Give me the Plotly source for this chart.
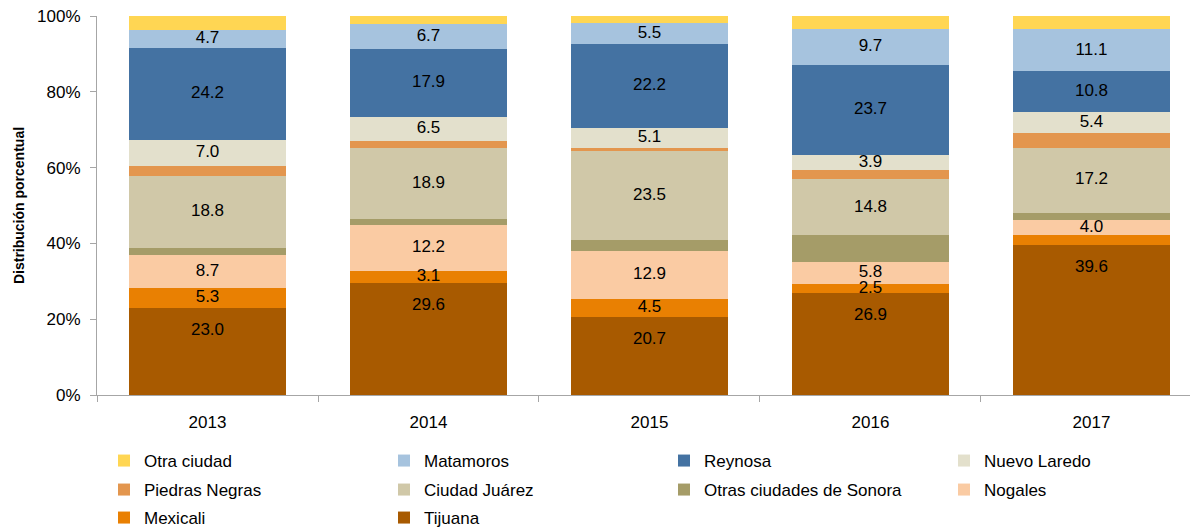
import plotly.graph_objects as go

years = ["2013", "2014", "2015", "2016", "2017"]
y_tick_values = [0, 20, 40, 60, 80, 100]
y_tick_labels = ["0%", "20%", "40%", "60%", "80%", "100%"]

# Series listed from bottom of the stack to the top
tijuana = [23.0, 29.6, 20.7, 26.9, 39.6]
mexicali = [5.3, 3.1, 4.5, 2.5, 2.6]
nogales = [8.7, 12.2, 12.9, 5.8, 4.0]
otras_sonora = [1.9, 1.5, 2.7, 6.9, 1.9]
ciudad_juarez = [18.8, 18.9, 23.5, 14.8, 17.2]
piedras_negras = [2.7, 1.6, 1.0, 2.5, 3.9]
nuevo_laredo = [7.0, 6.5, 5.1, 3.9, 5.4]
reynosa = [24.2, 17.9, 22.2, 23.7, 10.8]
matamoros = [4.7, 6.7, 5.5, 9.7, 11.1]
otra_ciudad = [3.7, 2.0, 1.9, 3.3, 3.5]

names = ["Tijuana", "Mexicali", "Nogales", "Otras ciudades de Sonora", "Ciudad Juárez",
         "Piedras Negras", "Nuevo Laredo", "Reynosa", "Matamoros", "Otra ciudad"]
values = [tijuana, mexicali, nogales, otras_sonora, ciudad_juarez,
          piedras_negras, nuevo_laredo, reynosa, matamoros, otra_ciudad]
# which data labels are shown (per series, per year)
labels_shown = [
    [1, 1, 1, 1, 1],
    [1, 1, 1, 1, 0],
    [1, 1, 1, 1, 1],
    [0, 0, 0, 0, 0],
    [1, 1, 1, 1, 1],
    [0, 0, 0, 0, 0],
    [1, 1, 1, 1, 1],
    [1, 1, 1, 1, 1],
    [1, 1, 1, 1, 1],
    [0, 0, 0, 0, 0],
]

# ---- styling ----
colors = ["#A85A00", "#E98002", "#FACBA3", "#A59C68", "#D0C8A8",
          "#E3964E", "#E3E0CC", "#4472A2", "#A6C3DE", "#FFD653"]
legend_rows = ["legend3", "legend3", "legend2", "legend2", "legend2",
               "legend2", "legend", "legend", "legend", "legend"]
legend_widths = [235, 235, 150, 235, 235, 235, 150, 235, 235, 235]

FONT = "Liberation Sans, Arial, sans-serif"
AXIS_COLOR = "#A6A6A6"
W, H = 1190, 519
M_L, M_R, M_T, M_B = 89, 0, 8, 132
plot_h = H - M_T - M_B
label_drop_px = 23  # Tijuana labels sit below the top of their segment

fig = go.Figure()
for name, vals, col, lg, lw in zip(names, values, colors, legend_rows, legend_widths):
    fig.add_trace(go.Bar(
        x=years, y=vals, name=name, marker=dict(color=col, line=dict(width=0)),
        legend=lg, legendwidth=lw, hoverinfo="name+y",
    ))

lx, ly, lt = [], [], []
base = [0.0] * len(years)
for si, vals in enumerate(values):
    for yi, v in enumerate(vals):
        if labels_shown[si][yi]:
            if si == 0:
                y = base[yi] + v - label_drop_px * 100.0 / plot_h
            else:
                y = base[yi] + v / 2
            lx.append(years[yi])
            ly.append(y)
            lt.append(f"{v:.1f}")
    base = [b + v for b, v in zip(base, vals)]

fig.add_trace(go.Scatter(
    x=lx, y=ly, text=lt, mode="text", textposition="middle center",
    textfont=dict(family=FONT, size=17, color="#000000"),
    showlegend=False, hoverinfo="skip", cliponaxis=False,
))

legend_common = dict(
    orientation="h", xref="container", yref="container", xanchor="left",
    yanchor="middle", traceorder="reversed",
    font=dict(family=FONT, size=17, color="#000000"),
)
lg_x = 96 / W

fig.update_layout(
    width=W, height=H,
    margin=dict(l=M_L, r=M_R, t=M_T, b=M_B),
    paper_bgcolor="white", plot_bgcolor="white",
    barmode="stack", bargap=0.29,
    font=dict(family=FONT, size=17, color="#000000"),
    showlegend=True,
    legend=dict(legend_common, x=lg_x, y=1 - 453 / H),
    legend2=dict(legend_common, x=lg_x, y=1 - 482 / H),
    legend3=dict(legend_common, x=lg_x, y=1 - 510 / H),
    xaxis=dict(
        type="category", range=[-0.5, 4.482], showline=True, linecolor=AXIS_COLOR,
        linewidth=1, ticks="outside", tickson="boundaries", ticklen=6,
        tickcolor=AXIS_COLOR, showgrid=False, ticklabelstandoff=12,
        tickfont=dict(family=FONT, size=17, color="#000000"), fixedrange=True,
    ),
    yaxis=dict(
        range=[0, 100], tickmode="array", tickvals=y_tick_values, ticktext=y_tick_labels,
        showline=True, linecolor=AXIS_COLOR, linewidth=1, ticks="outside",
        ticklen=6, tickcolor=AXIS_COLOR, showgrid=False, zeroline=False,
        ticklabelstandoff=6, ticklabeloverflow="allow",
        tickfont=dict(family=FONT, size=17, color="#000000"),
        title=dict(text="<b>Distribución porcentual</b>", standoff=9,
                   font=dict(family=FONT, size=14, color="#000000")),
        fixedrange=True,
    ),
)

fig.write_html("out.html")
